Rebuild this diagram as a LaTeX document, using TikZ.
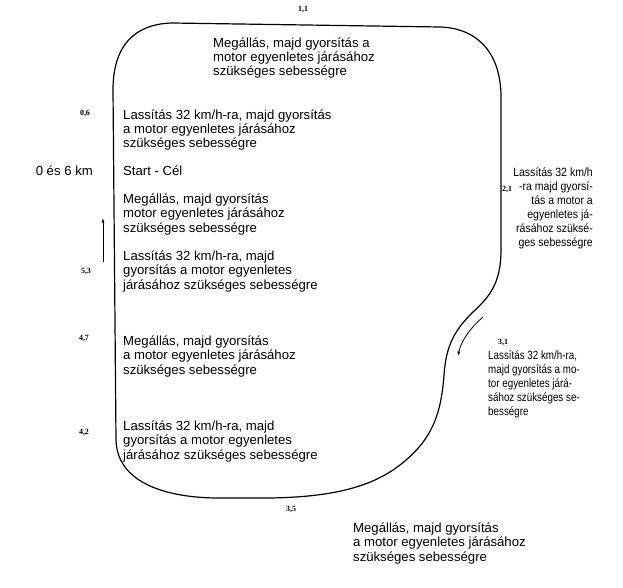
\documentclass[tikz,border=0pt]{standalone}
\usepackage{fontspec}
\setmainfont{Liberation Sans}
\newfontfamily\numfont{Liberation Serif}
\newfontfamily\narrowfont[FakeStretch=0.88]{Liberation Sans}
\newfontfamily\narrowerfont[FakeStretch=0.82]{Liberation Sans}
\usetikzlibrary{arrows.meta}

\begin{document}
\begin{tikzpicture}[x=1bp, y=-1bp,
          txt/.style={anchor=base west, align=left, inner sep=0pt, font=\fontsize{13.2}{14.5}\selectfont},
          num/.style={inner sep=0pt, font=\numfont\bfseries\fontsize{8}{9}\selectfont},
          narrow/.style={inner sep=0pt, font=\narrowfont\fontsize{12}{14}\selectfont},
          track/.style={line width=1.2bp, line join=round},
          arr/.style={-{Latex[length=1.6mm, width=1.1mm]}, line width=0.8bp}
        ]
        \useasboundingbox (0,0) rectangle (623,588);
        \draw[track] (113,90) .. controls (113,45) and (135,24) .. (172,23)
          -- (440,27) .. controls (475,28) and (500,50) .. (501,95)
          -- (501,250) .. controls (501,285) and (488,298) .. (472,313)
          .. controls (455,330) and (446,345) .. (444,375)
          .. controls (441,415) and (432,440) .. (400,465)
          .. controls (370,488) and (330,497) .. (270,498)
          -- (215,498) .. controls (160,497) and (117,480) .. (116,440) -- cycle;
        \node[num] (k11) at (303,9) {1,1};
        \node[txt] (stop1) at (213,76) {Megállás, majd gyorsítás a\\motor egyenletes járásához\\szükséges sebességre};
        \node[num] (k06) at (85,113) {0,6};
        \node[txt] (slow1) at (123,148) {Lassítás 32 km/h-ra, majd gyorsítás\\a motor egyenletes járásához\\szükséges sebességre};
        \node[txt, anchor=base east] (km) at (93,176) {0 és 6 km};
        \node[txt] (start) at (123,176) {Start - Cél};
        \node[txt] (stop2) at (123,232) {Megállás, majd gyorsítás\\motor egyenletes járásához\\szükséges sebességre};
        \node[txt] (slow2) at (123,289) {Lassítás 32 km/h-ra, majd\\gyorsítás a motor egyenletes\\járásához szükséges sebességre};
        \node[num] (k53) at (86,271) {5,3};
        \node[num] (k47) at (84,338) {4,7};
        \node[txt] (stop3) at (123,374) {Megállás, majd gyorsítás\\a motor egyenletes járásához\\szükséges sebességre};
        \node[num] (k42) at (84,432) {4,2};
        \node[txt] (slow3) at (123,459) {Lassítás 32 km/h-ra, majd\\gyorsítás a motor egyenletes\\járásához szükséges sebességre};
        \node[num] (k35) at (291,509) {3,5};
        \node[txt] (stop4) at (353,561) {Megállás, majd gyorsítás\\a motor egyenletes járásához\\szükséges sebességre};
        \node[narrow, anchor=base east, align=right] (slow4) at (593,246) {Lassítás 32 km/h\\-ra majd gyorsí-\\tás a motor a\\egyenletes já-\\rásához szüksé-\\ges sebességre};
        \node[num] (k21) at (507,189) {2,1};
        \node[num] (k31) at (503,342) {3,1};
        \node[narrow, anchor=base west, align=left, font=\narrowerfont\fontsize{12}{14}\selectfont] (slow5) at (488,415) {Lassítás 32 km/h-ra,\\majd gyorsítás a mo-\\tor egyenletes járá-\\sához szükséges se-\\bességre};
        \coordinate (up1) at (103,262);
        \coordinate (up2) at (103,218);
        \coordinate (dn1) at (483,317);
        \coordinate (dn2) at (458,356);
        \draw[arr] (up1) -- (up2);
        \draw[arr] (dn1) .. controls (471,327) and (461,341) .. (dn2);
      \end{tikzpicture}
\end{document}
